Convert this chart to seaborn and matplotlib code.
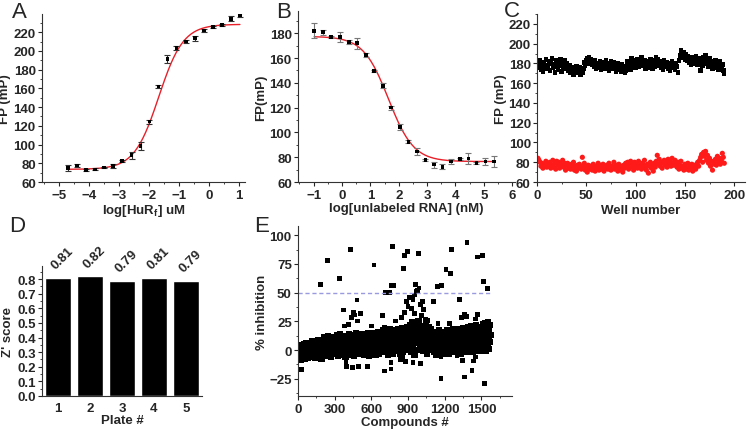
import matplotlib
matplotlib.use('Agg')
import matplotlib.pyplot as plt
from matplotlib.ticker import MultipleLocator
import seaborn as sns
import pandas as pd
import numpy as np

# ---- panel A : HuR titration ----
a_logc = [-4.72, -4.41, -4.10, -3.80, -3.50, -3.20, -2.90, -2.59, -2.29, -1.99,
          -1.69, -1.39, -1.09, -0.78, -0.48, -0.18, 0.12, 0.43, 0.73, 1.03]
a_fp = [74.7, 77.5, 73.0, 73.5, 75.5, 77.0, 82.5, 88.5, 98.5, 124.5,
        162.0, 191.5, 203.0, 210.0, 213.5, 222.0, 225.5, 228.0, 234.5, 238.5]
a_err = [3, 1.5, 1, 1, 1, 2.5, 1, 3.5, 4.5, 2, 2, 4, 2, 2, 2.5, 2, 1, 1, 3, 2]
a_fit = dict(bottom=73.5, top=228.5, logec50=-1.68, hill=1.06)

# ---- panel B : competition with unlabeled RNA ----
b_logc = [-0.98, -0.67, -0.38, -0.06, 0.24, 0.54, 0.84, 1.13, 1.44, 1.74, 2.04,
          2.34, 2.64, 2.94, 3.25, 3.54, 3.85, 4.15, 4.46, 4.74, 5.06, 5.35]
b_fp = [182.0, 181.0, 177.0, 176.8, 173.0, 172.0, 162.5, 149.5, 137.5, 120.0, 104.5,
        92.5, 84.5, 77.6, 74.0, 72.2, 76.6, 78.5, 79.0, 75.5, 76.6, 76.6]
b_err = [6, 2, 1, 4, 2, 4.5, 1.5, 1, 2, 1.5, 2.5, 1, 3, 1, 2.5, 2, 2, 1, 4.5, 1, 3, 4.5]
b_fit = dict(bottom=76.5, top=177.5, logic50=1.64, hill=0.98)

# ---- panel C : plate uniformity, 190 wells ----
c_bound = [180, 176, 183, 174, 179, 172, 181, 177, 184, 175,
           178, 182, 173, 180, 185, 176, 179, 171, 183, 177,
           174, 181, 178, 184, 172, 179, 176, 183, 175, 180,
           177, 173, 178, 170, 176, 174, 168, 175, 172, 177,
           174, 170, 176, 168, 173, 171, 175, 181, 178, 183,
           185, 180, 186, 182, 184, 179, 181, 177, 183, 175,
           180, 178, 176, 182, 174, 179, 181, 177, 175, 183,
           178, 180, 173, 177, 182, 179, 175, 181, 176, 172,
           178, 180, 174, 176, 172, 179, 177, 175, 171, 173,
           178, 182, 176, 180, 174, 185, 181, 178, 183, 176,
           180, 184, 177, 182, 179, 186, 181, 178, 183, 175,
           180, 182, 176, 179, 184, 178, 175, 181, 177, 183,
           186, 180, 184, 178, 182, 176, 180, 174, 183, 179,
           177, 181, 175, 180, 173, 178, 182, 176, 179, 174,
           180, 177, 171, 183, 188, 193, 190, 186, 191, 184,
           189, 183, 187, 181, 185, 179, 186, 182, 184, 180,
           187, 183, 179, 185, 182, 173, 181, 178, 186, 184,
           188, 180, 183, 177, 185, 179, 182, 175, 181, 178,
           183, 176, 180, 174, 182, 178, 175, 179, 173, 169]
c_free = [84, 82, 80, 76, 79, 74, 78, 77, 81, 75,
          78, 76, 80, 74, 77, 82, 75, 79, 73, 81,
          77, 80, 74, 78, 76, 82, 75, 79, 72, 77,
          79, 74, 76, 73, 78, 75, 80, 72, 76, 71,
          77, 74, 78, 75, 73, 85, 76, 79, 72, 75,
          70, 77, 73, 76, 74, 72, 78, 75, 71, 76,
          74, 79, 72, 77, 75, 73, 78, 71, 76, 74,
          77, 73, 79, 75, 72, 76, 74, 80, 73, 77,
          75, 71, 78, 74, 76, 72, 70, 77, 74, 79,
          76, 80, 73, 77, 81, 75, 78, 72, 80, 76,
          79, 74, 81, 77, 75, 73, 79, 76, 82, 74,
          72, 78, 69, 76, 80, 74, 77, 71, 79, 75,
          81, 87, 78, 83, 76, 80, 74, 79, 82, 77,
          80, 75, 83, 78, 81, 76, 84, 79, 77, 82,
          78, 75, 80, 73, 77, 81, 74, 76, 72, 78,
          75, 73, 79, 72, 76, 74, 78, 71, 77, 75,
          73, 78, 80, 76, 82, 85, 88, 80, 90, 86,
          91, 82, 87, 79, 84, 76, 81, 72, 80, 78,
          83, 77, 86, 80, 84, 78, 82, 89, 85, 79]

# ---- panel D : Z' per plate ----
plates = ['1', '2', '3', '4', '5']
z_score = [0.81, 0.82, 0.79, 0.81, 0.79]

# ---- panel E : screen, bulk of compounds (every 4th compound) ----
e_bulk = [-3, 2, -7, 0, -5, 4, -9, -1, 3, -6, 1, -4, 5, -8, -2, 2, -5, 6, -3, 0, -7, 3, -1, -4, 4,
          -2, 5, -6, 1, 8, -4, 3, -1, 7, -7, 2, -3, 6, 0, -5, 9, -2, 4, -6, 1, 7, -3, 3, -8, 5,
          1, 8, -4, 5, 11, -2, 3, 9, -5, 6, 0, 12, -3, 4, 10, -1, 7, 2, -6, 9, 3, -2, 11, 5, 0,
          4, 10, -3, 7, 13, 0, 5, -5, 9, 2, 14, -2, 6, 11, 1, -4, 8, 3, 12, -1, 6, 10, -6, 4, 9,
          2, 11, -4, 7, 14, 0, 5, 9, -3, 12, 3, 8, -1, 13, 6, -5, 10, 1, 7, 15, -2, 4, 11, 0, 8,
          6, -3, 12, 2, 9, 14, -1, 5, 10, -4, 7, 1, 13, 4, -2, 11, 8, 0, 15, 3, -5, 9, 6, 12, -1,
          3, 12, -2, 8, 15, 1, 6, 10, -4, 13, 4, 9, 0, 16, 7, -3, 11, 2, 14, 5, -1, 10, 7, 17, 0,
          9, -2, 13, 4, 16, 1, 7, 11, -4, 14, 3, 8, 18, -1, 6, 12, 2, 15, -3, 10, 5, 13, 0, 8, 17,
          5, 14, -1, 10, 18, 3, 8, 12, -3, 16, 6, 11, 1, 19, 9, -2, 13, 4, 17, 7, 0, 15, 10, 20, 2,
          8, 18, 1, 13, 22, 5, 11, -2, 16, 24, 3, 10, 19, -4, 14, 7, 21, 12, 0, 17, 9, 25, 6, 15, 2,
          11, 3, 17, 7, 21, -1, 13, 9, 19, 2, 15, 5, 23, 10, -3, 16, 8, 20, 4, 12, 0, 18, 6, 14, 1,
          4, 13, -2, 9, 16, 1, 7, 12, -4, 15, 5, 10, 0, 17, 8, -1, 11, 3, 14, 6, -3, 12, 2, 9, 16,
          7, -1, 14, 3, 10, 17, 1, 8, 12, -3, 15, 5, 9, 0, 13, 6, 18, 2, 11, -2, 7, 16, 4, 10, 1,
          5, 14, 0, 10, 18, 3, 8, 13, -3, 16, 6, 11, 1, 19, 9, -1, 12, 4, 17, 7, -2, 15, 10, 20, 2,
          9, 17, 2, 12, 21, 5, 10, 15, -2, 19, 7, 13, 3, 22, 11, 0, 16, 6, 20, 8, -1, 14, 18, 4, 12,
          10, 19, 3, 14, 23, 6, 12, 17, -1, 21, 8, 15, 4, 24, 11, 1, 18, 7, 22, 13]
# outliers read one by one
e_hit_x = [184, 244, 340, 430, 621, 772, 873, 862, 767, 783, 717, 753, 482, 370, 440, 452, 460,
           512, 488, 690, 794, 380, 410, 600, 845, 705, 28, 397, 443, 498, 567, 706, 761, 392, 760,
           854, 1382, 1254, 898, 985, 1210, 1245, 1470, 1506, 1519, 1547, 1141, 1172, 964, 975,
           990, 950, 968, 885, 912, 940, 1005, 1020, 1105, 1322, 1340, 1360, 1380, 1450, 1468,
           1528, 1240, 1145, 1169, 1363, 1423, 1432, 1527, 880, 1000, 940, 840, 1170, 1300, 1345,
           1450, 930, 955, 1010, 1040, 900, 1060, 870, 1025]
e_hit_y = [57.3, 78.2, 62.5, 87.8, 74.1, 89.8, 82.0, 71.2, 56.4, 56.4, 50.3, 50.3, 43.6, 34.9,
           28.0, 33.0, 30.5, 31.7, 25.3, 30.2, 25.3, 21.0, 22.0, 21.0, 28.0, 20.0, -17.0, -14.0,
           -15.5, -14.0, -14.5, -18.3, -16.5, -10.0, -11.0, -6.0, 93.6, 87.8, 85.5, 84.0, 70.3,
           66.8, 81.0, 82.0, 59.6, 53.8, 55.2, 56.4, 57.3, 52.0, 54.0, 48.0, 51.0, 42.0, 46.0,
           44.0, 40.0, 42.0, 42.0, 44.2, 28.0, 31.0, 29.0, 27.0, 31.0, 24.0, 23.0, 23.0, -24.7,
           -23.5, -17.7, -9.6, -29.4, -10.0, -12.0, -11.0, -8.0, -6.0, -5.0, -9.0, -6.0, 36.0,
           32.0, 30.0, 27.0, 38.0, 26.0, 33.0, 35.0]
hit_cutoff = 50

W, H = 749, 431
sns.set_style('ticks')
plt.rcParams['font.family'] = ['Liberation Sans', 'DejaVu Sans']
plt.rcParams['font.weight'] = 'bold'
plt.rcParams['axes.labelweight'] = 'bold'
plt.rcParams['mathtext.fontset'] = 'custom'
plt.rcParams['mathtext.rm'] = 'Liberation Sans:bold'
plt.rcParams['mathtext.bf'] = 'Liberation Sans:bold'
plt.rcParams['xtick.labelsize'] = 9.5
plt.rcParams['ytick.labelsize'] = 9.5
plt.rcParams['axes.labelsize'] = 9.5
plt.rcParams['axes.linewidth'] = 0.8
plt.rcParams['xtick.major.size'] = 3
plt.rcParams['ytick.major.size'] = 3
plt.rcParams['xtick.minor.size'] = 1.6
plt.rcParams['ytick.minor.size'] = 1.6
plt.rcParams['xtick.major.pad'] = 2
plt.rcParams['ytick.major.pad'] = 1.5
plt.rcParams['axes.edgecolor'] = '#333333'

fig = plt.figure(figsize=(W / 100, H / 100), dpi=100)


def px_axes(l, t, r, b):
    return fig.add_axes([l / W, 1 - b / H, (r - l) / W, (b - t) / H])


def finish(ax, xmaj, xmin, ymaj, ymin):
    sns.despine(ax=ax)
    ax.xaxis.set_major_locator(MultipleLocator(xmaj))
    ax.xaxis.set_minor_locator(MultipleLocator(xmin))
    ax.yaxis.set_major_locator(MultipleLocator(ymaj))
    ax.yaxis.set_minor_locator(MultipleLocator(ymin))
    for t in ax.get_xticklabels() + ax.get_yticklabels():
        t.set_fontweight('bold')


# A
ax = px_axes(42, 15, 245, 183)
xs = np.linspace(a_logc[0], a_logc[-1], 200)
ys = a_fit['bottom'] + (a_fit['top'] - a_fit['bottom']) / (1 + 10 ** ((a_fit['logec50'] - xs) * a_fit['hill']))
sns.lineplot(x=xs, y=ys, color='#e8202a', lw=1, ax=ax)
ax.errorbar(a_logc, a_fp, yerr=a_err, fmt='none', ecolor='#333333', elinewidth=0.8, capsize=2, capthick=0.8)
sns.scatterplot(x=a_logc, y=a_fp, marker='s', s=7, color='black', edgecolor='none', ax=ax, zorder=3)
ax.set_xlim(-5.58, 1.2)
ax.set_ylim(60, 239.5)
finish(ax, 1, 0.5, 20, 10)
ax.set_xlabel(r'log[HuR$_\mathbf{f}$] uM', labelpad=1)
ax.set_ylabel('FP (mP)', labelpad=2)

# B
ax = px_axes(298, 12, 515, 183)
xs = np.linspace(b_logc[0], b_logc[-1], 200)
ys = b_fit['bottom'] + (b_fit['top'] - b_fit['bottom']) / (1 + 10 ** ((xs - b_fit['logic50']) * b_fit['hill']))
sns.lineplot(x=xs, y=ys, color='#e8202a', lw=1, ax=ax)
ax.errorbar(b_logc, b_fp, yerr=b_err, fmt='none', ecolor='#777777', elinewidth=0.8, capsize=2, capthick=0.8)
sns.scatterplot(x=b_logc, y=b_fp, marker='s', s=7, color='black', edgecolor='none', ax=ax, zorder=3)
ax.set_xlim(-1.55, 6.1)
ax.set_ylim(60, 198)
finish(ax, 1, 0.5, 20, 10)
ax.set_xlabel('log[unlabeled RNA] (nM)', labelpad=1)
ax.set_ylabel('FP(mP)', labelpad=2)

# C
ax = px_axes(537, 15, 745, 183)
wells = np.arange(1, len(c_bound) + 1)
sns.scatterplot(x=wells, y=c_bound, marker='s', s=10, color='black', edgecolor='none', ax=ax)
sns.scatterplot(x=wells, y=c_free, marker='o', s=14, color='#ff1a1a', edgecolor='none', ax=ax)
ax.set_xlim(0, 211)
ax.set_ylim(60, 230)
finish(ax, 50, 25, 20, 10)
ax.set_xlabel('Well number', labelpad=2)
ax.set_ylabel('FP (mP)', labelpad=1)

# D
ax = px_axes(42, 267, 202, 397)
dfz = pd.DataFrame({'plate': plates, 'z': z_score})
sns.barplot(data=dfz, x='plate', y='z', color='black', width=0.82, saturation=1, ax=ax)
for i, v in enumerate(z_score):
    ax.annotate(f'{v:.2f}', (i, v), xytext=(3, 14), textcoords='offset points', rotation=45,
                ha='center', va='center', fontsize=9.5, fontweight='bold')
ax.set_xlim(-0.5, 4.5)
ax.set_ylim(0, 0.89)
sns.despine(ax=ax)
ax.yaxis.set_major_locator(MultipleLocator(0.1))
ax.yaxis.set_minor_locator(MultipleLocator(0.05))
ax.yaxis.set_major_formatter(plt.FormatStrFormatter('%.1f'))
ax.tick_params(axis='x', length=0, pad=4)
for t in ax.get_xticklabels() + ax.get_yticklabels():
    t.set_fontweight('bold')
ax.set_xlabel('Plate #', labelpad=0)
ax.set_ylabel("Z' score", labelpad=2)

# E
ax = px_axes(298, 227, 512, 397)
compounds = np.arange(1, 4 * len(e_bulk), 4)
sns.scatterplot(x=compounds, y=e_bulk, marker='s', s=20, color='black', edgecolor='none', ax=ax)
sns.scatterplot(x=e_hit_x, y=e_hit_y, marker='s', s=12, color='black', edgecolor='none', ax=ax)
ax.plot([0, 1580], [hit_cutoff, hit_cutoff], ls=(0, (3, 2)), color='#9a9ae0', lw=1)
ax.set_xlim(0, 1750)
ax.set_ylim(-40, 108)
finish(ax, 300, 150, 25, 12.5)
ax.set_xlabel('Compounds #', labelpad=1)
ax.set_ylabel('% inhibition', labelpad=1)

for lab, x, y in [('A', 12, 2), ('B', 276, 2), ('C', 504, 1), ('D', 9, 216), ('E', 254, 216)]:
    fig.text(x / W, 1 - y / H, lab, fontsize=16, fontweight='normal', va='top', ha='left')

fig.savefig('out.png', dpi=100)
